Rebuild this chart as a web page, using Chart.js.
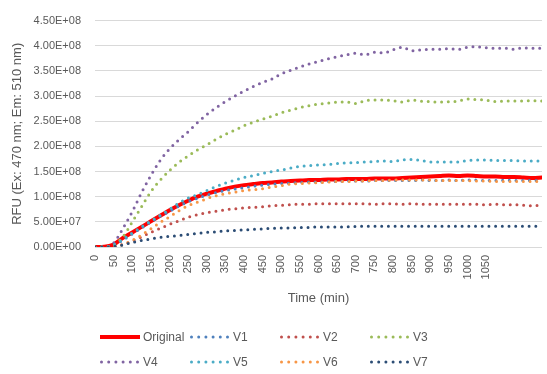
<!DOCTYPE html>
<html>
<head>
<meta charset="utf-8">
<script src="https://cdn.jsdelivr.net/npm/chart.js@4.4.1/dist/chart.umd.min.js"></script>
<style>
  body { margin: 0; background: #fff; }
  #wrap { position: relative; width: 547px; height: 374px; font-family: "Liberation Sans", Arial, sans-serif; color: #595959; }
  #chart { position: absolute; left: 0; top: 0; }
  #legend { position: absolute; left: 0; top: 0; width: 547px; height: 374px; pointer-events: none; }
  .item { position: absolute; height: 20px; display: flex; align-items: center; font-size: 12px; white-space: nowrap; }
  .item svg { margin-right: 3px; }
</style>
</head>
<body>
<div id="wrap">
  <canvas id="chart" width="547" height="318"></canvas>
  <div id="legend"></div>
</div>
<script>
// === Data (RFU values in units of 1e8) ===
const UNIT = 1e8;
const times = [0, 25, 50, 75, 100, 125, 150, 175, 200, 225, 250, 275, 300, 325, 350, 375, 400,
  425, 450, 475, 500, 525, 550, 575, 600, 625, 650, 675, 700, 725, 750, 775, 800, 825, 850,
  875, 900, 925, 950, 975, 1000, 1025, 1050, 1075, 1100, 1125, 1150, 1175, 1200];

const original = [0, 0.005, 0.05, 0.18, 0.29, 0.40, 0.51, 0.62, 0.73, 0.83, 0.92, 1.00, 1.06, 1.11,
  1.16, 1.20, 1.23, 1.25, 1.27, 1.28, 1.30, 1.31, 1.32, 1.33, 1.33, 1.34, 1.34, 1.35, 1.35, 1.35,
  1.36, 1.36, 1.36, 1.37, 1.38, 1.39, 1.40, 1.41, 1.42, 1.41, 1.42, 1.41, 1.40, 1.40, 1.39, 1.39,
  1.38, 1.37, 1.38];
const v1 = [0, 0, 0.03, 0.14, 0.26, 0.38, 0.50, 0.61, 0.71, 0.81, 0.90, 0.97, 1.03, 1.08, 1.12,
  1.15, 1.18, 1.21, 1.23, 1.25, 1.26, 1.27, 1.28, 1.29, 1.29, 1.30, 1.30, 1.31, 1.31, 1.31,
  1.32, 1.32, 1.32, 1.32, 1.32, 1.33, 1.32, 1.32, 1.33, 1.32, 1.33, 1.33, 1.32, 1.32, 1.33,
  1.32, 1.32, 1.32, 1.33];
const v2 = [0, 0, 0.01, 0.05, 0.12, 0.20, 0.29, 0.37, 0.45, 0.52, 0.59, 0.64, 0.68, 0.71, 0.74,
  0.76, 0.78, 0.79, 0.80, 0.82, 0.83, 0.84, 0.85, 0.85, 0.86, 0.86, 0.86, 0.86, 0.86, 0.86,
  0.85, 0.86, 0.86, 0.85, 0.86, 0.85, 0.85, 0.85, 0.85, 0.85, 0.85, 0.85, 0.84, 0.85, 0.84,
  0.84, 0.83, 0.82, 0.83];
const v3 = [0, 0, 0.04, 0.20, 0.50, 0.80, 1.10, 1.33, 1.52, 1.68, 1.81, 1.93, 2.03, 2.14, 2.24,
  2.32, 2.41, 2.48, 2.54, 2.60, 2.67, 2.72, 2.77, 2.81, 2.84, 2.86, 2.88, 2.88, 2.85, 2.91,
  2.92, 2.92, 2.91, 2.88, 2.92, 2.90, 2.89, 2.88, 2.89, 2.90, 2.94, 2.93, 2.92, 2.89, 2.90,
  2.90, 2.90, 2.91, 2.90];
const v4 = [0, 0, 0.08, 0.37, 0.70, 1.08, 1.42, 1.72, 1.95, 2.13, 2.29, 2.47, 2.63, 2.77, 2.89,
  3.00, 3.10, 3.19, 3.27, 3.34, 3.44, 3.51, 3.58, 3.64, 3.69, 3.74, 3.78, 3.82, 3.85, 3.82,
  3.87, 3.86, 3.92, 3.97, 3.90, 3.92, 3.93, 3.93, 3.94, 3.93, 3.97, 3.98, 3.96, 3.95, 3.95,
  3.93, 3.96, 3.95, 3.95];
const v5 = [0, 0, 0.04, 0.15, 0.28, 0.40, 0.52, 0.63, 0.75, 0.87, 0.97, 1.04, 1.12, 1.20, 1.27,
  1.33, 1.38, 1.42, 1.46, 1.50, 1.53, 1.57, 1.60, 1.62, 1.63, 1.64, 1.66, 1.67, 1.68, 1.69,
  1.70, 1.71, 1.70, 1.73, 1.74, 1.72, 1.69, 1.69, 1.69, 1.69, 1.72, 1.73, 1.73, 1.72, 1.72,
  1.72, 1.71, 1.71, 1.71];
const v6 = [0, 0, 0.01, 0.05, 0.13, 0.24, 0.36, 0.49, 0.60, 0.72, 0.82, 0.89, 0.96, 1.02, 1.06,
  1.09, 1.12, 1.14, 1.16, 1.19, 1.22, 1.25, 1.26, 1.27, 1.28, 1.29, 1.30, 1.30, 1.31, 1.31,
  1.32, 1.32, 1.33, 1.33, 1.33, 1.33, 1.33, 1.32, 1.32, 1.32, 1.32, 1.31, 1.31, 1.30, 1.30,
  1.30, 1.30, 1.30, 1.30];
const v7 = [0, 0, 0.01, 0.04, 0.09, 0.13, 0.16, 0.19, 0.21, 0.23, 0.25, 0.27, 0.29, 0.30, 0.32,
  0.33, 0.34, 0.35, 0.36, 0.37, 0.38, 0.38, 0.39, 0.39, 0.40, 0.40, 0.40, 0.40, 0.41, 0.41,
  0.41, 0.41, 0.41, 0.41, 0.41, 0.41, 0.41, 0.41, 0.41, 0.41, 0.41, 0.41, 0.41, 0.41, 0.41,
  0.41, 0.41, 0.41, 0.41];

const seriesNames = ['Original', 'V1', 'V2', 'V3', 'V4', 'V5', 'V6', 'V7'];
const seriesValues = [original, v1, v2, v3, v4, v5, v6, v7];
const seriesColors = ['#FF0000', '#4F81BD', '#C0504D', '#9BBB59', '#8064A2', '#4BACC6', '#F79646', '#2C4D75'];

const yTicksMax = 4.5e8;
const yTicksStep = 5e7;
const xTicksStep = 50;
const xLastLabel = 1050;

// === Helpers ===
function sci(v) {
  if (v === 0) return '0.00E+00';
  const exp = Math.floor(Math.log10(v) + 1e-9);
  const mant = v / Math.pow(10, exp);
  return mant.toFixed(2) + 'E+' + String(exp).padStart(2, '0');
}

const DOT = [0, 6.7];
const datasets = seriesNames.map((name, i) => ({
  label: name,
  data: times.map((t, k) => ({ x: t, y: seriesValues[i][k] * UNIT })),
  borderColor: seriesColors[i],
  backgroundColor: seriesColors[i],
  borderWidth: i === 0 ? 4 : 3,
  borderDash: i === 0 ? [] : DOT,
  borderCapStyle: 'round',
  borderJoinStyle: 'round',
  pointRadius: 0,
  cubicInterpolationMode: 'monotone',
  fill: false,
  order: seriesNames.length - i
}));

const textColor = '#595959';
const fontFamily = '"Liberation Sans", Arial, sans-serif';

// === Chart ===
const chart = new Chart(document.getElementById('chart'), {
  type: 'line',
  data: { datasets },
  options: {
    responsive: false,
    devicePixelRatio: 1,
    animation: false,
    layout: { padding: { top: 16, right: 5, left: 0, bottom: 0 } },
    plugins: { legend: { display: false }, tooltip: { enabled: false } },
    scales: {
      x: {
        type: 'linear',
        min: 0,
        max: 1200,
        afterFit: s => { s.height = 71; },
        grid: { display: false, drawTicks: false },
        border: { display: false },
        ticks: {
          stepSize: xTicksStep,
          autoSkip: false,
          minRotation: 90,
          maxRotation: 90,
          padding: 8,
          color: textColor,
          font: { family: fontFamily, size: 11 },
          callback: v => (v <= xLastLabel ? String(v) : null)
        },
        title: {
          display: true,
          text: 'Time (min)',
          color: textColor,
          font: { family: fontFamily, size: 13 },
          padding: { top: 0, bottom: 12 }
        }
      },
      y: {
        min: 0,
        max: yTicksMax,
        afterFit: s => { s.width = 95; },
        grid: { color: '#D9D9D9', lineWidth: 1, drawTicks: false },
        border: { display: false },
        ticks: {
          stepSize: yTicksStep,
          padding: 14,
          color: textColor,
          font: { family: fontFamily, size: 11 },
          callback: v => sci(v)
        },
        title: {
          display: true,
          text: 'RFU (Ex: 470 nm; Em: 510 nm)',
          color: textColor,
          font: { family: fontFamily, size: 13 },
          padding: { top: 10, bottom: 0 }
        }
      }
    }
  }
});

// === Legend (HTML, 4 columns x 2 rows) ===
const legendEl = document.getElementById('legend');
const colX = [100, 190, 280, 370];
const rowY = [337, 362];
chart.data.datasets.forEach((ds, i) => {
  const item = document.createElement('div');
  item.className = 'item';
  item.style.left = colX[i % 4] + 'px';
  item.style.top = (rowY[Math.floor(i / 4)] - 10) + 'px';
  const solid = ds.borderDash.length === 0;
  item.innerHTML =
    '<svg width="40" height="8"><line x1="' + (solid ? 0 : 1.5) + '" y1="4" x2="' + (solid ? 40 : 38) +
    '" y2="4" stroke="' + ds.borderColor + '" stroke-width="' + (solid ? 4 : 3) + '" stroke-linecap="' +
    (solid ? 'butt' : 'round') + '"' + (solid ? '' : ' stroke-dasharray="0 7.2"') + '/></svg>' +
    '<span>' + ds.label + '</span>';
  legendEl.appendChild(item);
});
</script>
</body>
</html>
